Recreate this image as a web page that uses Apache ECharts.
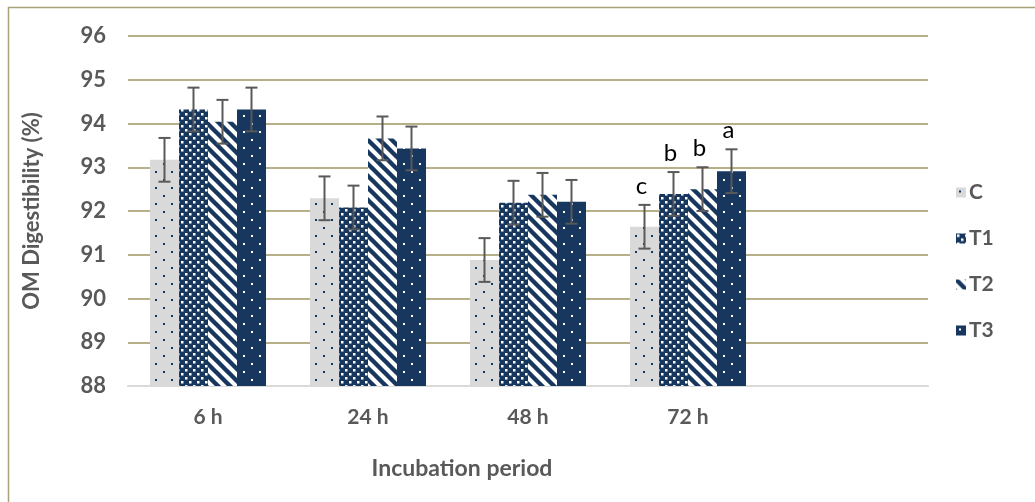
<!DOCTYPE html>
<html>
<head>
<meta charset="utf-8">
<script src="https://cdn.jsdelivr.net/npm/echarts@6/dist/echarts.min.js"></script>
<style>html,body{margin:0;padding:0;background:#fff;}#c{width:1035px;height:502px;}</style>
</head>
<body>
<div id="c"></div>
<script>
// ---- data ----
const categories = ['6 h', '24 h', '48 h', '72 h', ''];
const seriesNames = ['C', 'T1', 'T2', 'T3'];
const valuesC  = [93.17, 92.29, 90.88, 91.64];
const valuesT1 = [94.32, 92.08, 92.19, 92.39];
const valuesT2 = [94.04, 93.66, 92.37, 92.50];
const valuesT3 = [94.32, 93.43, 92.21, 92.91];
const errC  = [0.5, 0.5, 0.5, 0.5];
const errT1 = [0.5, 0.5, 0.5, 0.5];
const errT2 = [0.5, 0.5, 0.5, 0.5];
const errT3 = [0.5, 0.5, 0.5, 0.5];
const lettersC  = ['', '', '', 'c'];
const lettersT1 = ['', '', '', 'b'];
const lettersT2 = ['', '', '', 'b'];
const lettersT3 = ['', '', '', 'a'];
const yTicks = [88, 89, 90, 91, 92, 93, 94, 95, 96];

// ---- styling ----
const NAVY = '#17375e';
const GREY_TXT = '#595959';
const FONT = 'Lato, "Open Sans", sans-serif';

function makeTile(w, h, bg, draw) {
  const c = document.createElement('canvas');
  c.width = w; c.height = h;
  const x = c.getContext('2d');
  x.fillStyle = bg; x.fillRect(0, 0, w, h);
  draw(x);
  return c;
}
const patC = makeTile(16, 16, '#d9d9d9', x => {
  x.fillStyle = NAVY; x.fillRect(3, 3, 2, 2); x.fillRect(11, 11, 2, 2);
});
const patT1 = makeTile(8, 8, NAVY, x => {
  x.fillStyle = '#ffffff'; x.fillRect(1, 1, 2.5, 2.5); x.fillRect(5, 5, 2.5, 2.5);
});
const patT2 = makeTile(12, 12, '#ffffff', x => {
  x.strokeStyle = NAVY; x.lineWidth = 4.4;
  for (let k = -1; k <= 1; k++) {
    x.beginPath(); x.moveTo(-12 + k * 12, -12); x.lineTo(24 + k * 12, 24); x.stroke();
  }
});
const patT3 = makeTile(16, 16, NAVY, x => {
  x.fillStyle = '#ffffff'; x.fillRect(3, 3, 2, 2); x.fillRect(11, 11, 2, 2);
});
const patterns = [patC, patT1, patT2, patT3];

const allValues = [valuesC, valuesT1, valuesT2, valuesT3];
const allErr = [errC, errT1, errT2, errT3];
const allLetters = [lettersC, lettersT1, lettersT2, lettersT3];

const BAR_W = 29;

const series = [];
seriesNames.forEach((name, s) => {
  series.push({
    name: name,
    type: 'bar',
    barWidth: BAR_W,
    barGap: '0%',
    itemStyle: { color: { image: patterns[s], repeat: 'repeat' } },
    data: allValues[s]
  });
});
seriesNames.forEach((name, s) => {
  const offset = (s - 1.5) * BAR_W;
  series.push({
    type: 'custom',
    name: name + ' err',
    z: 10,
    silent: true,
    data: allValues[s].map((v, i) => [i, v, allErr[s][i]]),
    renderItem: function (params, api) {
      const i = api.value(0), v = api.value(1), e = api.value(2);
      const top = api.coord([i, v + e]);
      const bot = api.coord([i, v - e]);
      const x = top[0] + offset;
      const st = { stroke: '#595959', lineWidth: 2 };
      const cap = 6;
      const children = [
        { type: 'line', shape: { x1: x, y1: top[1], x2: x, y2: bot[1] }, style: st },
        { type: 'line', shape: { x1: x - cap, y1: top[1], x2: x + cap, y2: top[1] }, style: st },
        { type: 'line', shape: { x1: x - cap, y1: bot[1], x2: x + cap, y2: bot[1] }, style: st }
      ];
      const letter = allLetters[s][params.dataIndex];
      if (letter) {
        children.push({
          type: 'text',
          style: {
            x: x - 3, y: top[1] - 7, text: letter,
            fill: '#000', font: '24px ' + FONT,
            textAlign: 'center', textVerticalAlign: 'bottom'
          }
        });
      }
      return { type: 'group', children: children };
    }
  });
});

const chart = echarts.init(document.getElementById('c'), null, { renderer: 'canvas' });
chart.setOption({
  animation: false,
  backgroundColor: '#ffffff',
  grid: { left: 128, right: 107, top: 36, bottom: 116, containLabel: false },
  legend: {
    data: seriesNames,
    orient: 'vertical',
    left: 951,
    top: 177,
    itemWidth: 10,
    itemHeight: 10,
    itemGap: 25,
    icon: 'rect',
    textStyle: { color: GREY_TXT, fontSize: 21, fontWeight: 'bold', fontFamily: FONT, padding: [0, 0, 0, -2] }
  },
  xAxis: {
    type: 'category',
    data: categories,
    axisTick: { show: false },
    axisLine: { lineStyle: { color: '#d9d9d9', width: 2 } },
    axisLabel: { color: GREY_TXT, fontSize: 21, fontWeight: 'bold', fontFamily: FONT, margin: 21 }
  },
  yAxis: {
    type: 'value',
    min: yTicks[0],
    max: yTicks[yTicks.length - 1],
    interval: 1,
    axisLine: { show: false },
    axisTick: { show: false },
    axisLabel: { color: GREY_TXT, fontSize: 22, fontWeight: 'bold', fontFamily: FONT, margin: 22 },
    splitLine: { lineStyle: { color: '#9e9660', width: 1.5 } }
  },
  graphic: [
    { type: 'rect', shape: { x: 8.5, y: 7.5, width: 1100, height: 700 },
      style: { fill: 'none', stroke: '#a9a27a', lineWidth: 1.5 }, z: -10 },
    { type: 'text', x: 32, y: 211, rotation: Math.PI / 2,
      style: { text: 'OM Digestibility (%)', fill: GREY_TXT, font: 'bold 22px ' + FONT,
               textAlign: 'center', textVerticalAlign: 'middle' } },
    { type: 'text', x: 462, y: 469,
      style: { text: 'Incubation period', fill: GREY_TXT, font: 'bold 23px ' + FONT,
               textAlign: 'center', textVerticalAlign: 'middle' } }
  ],
  series: series
});
</script>
</body>
</html>
